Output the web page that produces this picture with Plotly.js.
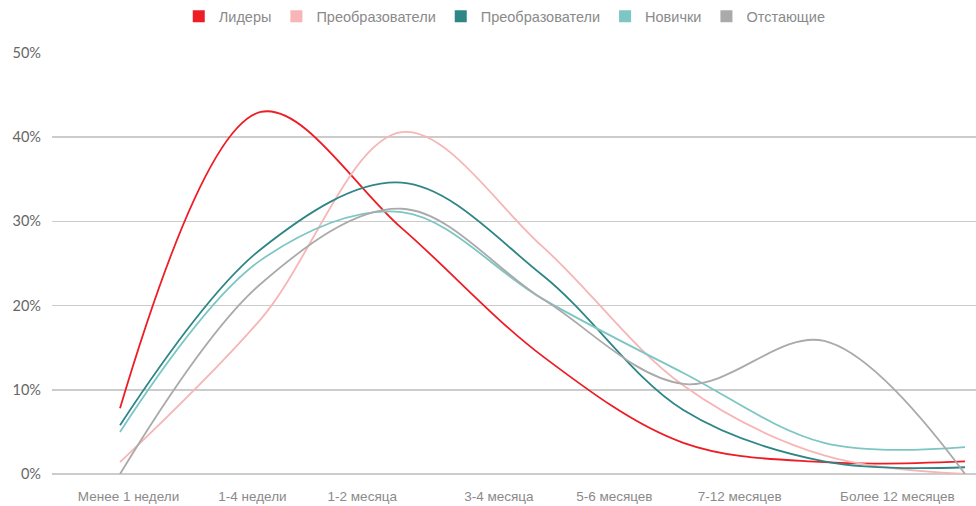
<!DOCTYPE html>
<html>
<head>
<meta charset="utf-8">
<script src="https://cdn.plot.ly/plotly-3.0.1.min.js"></script>
<style>html,body{margin:0;padding:0;background:#fff;}#chart{width:976px;height:506px;}</style>
</head>
<body>
<div id="chart"></div>
<script>
// Categories (tick labels)
const categories = ["Менее 1 недели", "1-4 недели", "1-2 месяца", "3-4 месяца", "5-6 месяцев", "7-12 месяцев", "Более 12 месяцев"];
// Series names
const seriesNames = ["Лидеры", "Преобразователи", "Преобразователи", "Новички", "Отстающие"];
// Series values (%), one per point
const leaders     = [7.8, 43.0, 29.2, 14.0, 3.7, 1.4, 1.5];
const converters1 = [1.4, 18.4, 40.6, 27.0, 10.5, 2.2, 0.0];
const converters2 = [5.8, 26.7, 34.6, 23.6, 7.6, 1.5, 0.8];
const novices     = [5.0, 25.4, 31.1, 20.8, 12.0, 3.7, 3.2];
const laggards    = [0.0, 22.6, 31.5, 20.8, 10.7, 15.8, 0.0];
// Label positions along the category scale
const tickPos = [0.06, 0.94, 1.72, 2.69, 3.51, 4.40, 5.52];

const colors = ["#ee1c25", "#f7b5b5", "#2f8686", "#7cc6c4", "#aaaaaa"];
const seriesValues = [leaders, converters1, converters2, novices, laggards];
const xIdx = categories.map((c, i) => i);

const traces = [];
seriesValues.forEach((vals, k) => {
  traces.push({
    x: xIdx, y: vals, type: "scatter", mode: "lines",
    line: {color: colors[k], width: 1.8, shape: "spline", smoothing: 1.0},
    showlegend: false, hoverinfo: "skip", name: seriesNames[k]
  });
});
seriesValues.forEach((vals, k) => {
  traces.push({
    x: [null], y: [null], type: "scatter", mode: "markers",
    marker: {color: colors[k], symbol: "square", size: 12},
    name: seriesNames[k], showlegend: true
  });
});

const layout = {
  width: 976, height: 506,
  margin: {l: 52, r: 0, t: 53, b: 32},
  paper_bgcolor: "#ffffff", plot_bgcolor: "#ffffff",
  showlegend: true,
  legend: {orientation: "h", x: 0.49, xanchor: "center", y: 1.125, yanchor: "top",
           font: {family: "Liberation Sans, Arial, sans-serif", size: 14.5, color: "#8a8a8a"},
           itemclick: false, tracegroupgap: 0},
  xaxis: {
    range: [-0.483, 6.078], tickvals: tickPos, ticktext: categories,
    showgrid: false, zeroline: false, showline: false, ticks: "",
    ticklabelstandoff: 12,
    tickfont: {family: "Liberation Sans, Arial, sans-serif", size: 13.5, color: "#8a8a8a"}
  },
  yaxis: {
    range: [0, 50], dtick: 10, ticksuffix: "%",
    showgrid: true, gridcolor: "#cccccc", gridwidth: 1.5,
    zeroline: true, zerolinecolor: "#cccccc", zerolinewidth: 1.5,
    showline: false, ticks: "", ticklabelstandoff: 10,
    tickfont: {family: "Lato, Open Sans, sans-serif", size: 14.5, color: "#666666"}
  }
};

Plotly.newPlot("chart", traces, layout, {displayModeBar: false, staticPlot: true});
</script>
</body>
</html>
